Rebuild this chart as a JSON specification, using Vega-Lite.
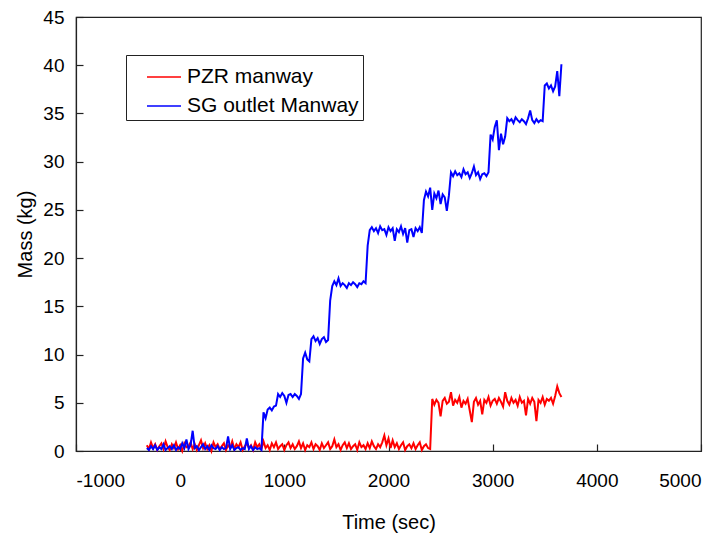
{
  "$schema": "https://vega.github.io/schema/vega-lite/v6.json",
  "width": 625,
  "height": 434,
  "autosize": {"type": "none"},
  "padding": {"left": 76, "top": 17, "right": 26, "bottom": 88},
  "background": "white",
  "config": {
    "font": "Liberation Sans, Arial",
    "view": {"stroke": "#222", "strokeWidth": 1.2},
    "axis": {"grid": false, "domainColor": "#222", "domainWidth": 1.2, "tickColor": "#222", "tickWidth": 1.2, "labelColor": "#000", "titleColor": "#000", "labelFontSize": 19, "titleFontSize": 20, "titleFontWeight": "normal", "labelFont": "Liberation Sans, Arial", "titleFont": "Liberation Sans, Arial"}
  },
  "data": {"values": [
    {"t":-320,"p":0.6,"g":0.3},{"t":-300,"p":0.2,"g":0.1},{"t":-280,"p":0.9,"g":0.5},{"t":-260,"p":0.3,"g":0.2},{"t":-240,"p":0.7,"g":0.6},{"t":-220,"p":0.1,"g":0.1},{"t":-200,"p":0.5,"g":0.4},{"t":-180,"p":0.8,"g":0.2},{"t":-160,"p":0.2,"g":0.7},{"t":-140,"p":1.0,"g":0.1},
    {"t":-120,"p":0.4,"g":0.3},{"t":-100,"p":0.1,"g":0.5},{"t":-80,"p":0.7,"g":0.2},{"t":-60,"p":0.3,"g":0.6},{"t":-40,"p":0.9,"g":0.1},{"t":-20,"p":0.2,"g":0.4},{"t":0,"p":0.6,"g":0.2},{"t":20,"p":0.0,"g":0.8},{"t":40,"p":0.8,"g":0.3},{"t":60,"p":0.4,"g":1.2},
    {"t":80,"p":0.5,"g":0.2},{"t":100,"p":0.9,"g":0.6},{"t":120,"p":0.2,"g":2.1},{"t":140,"p":0.7,"g":0.3},{"t":160,"p":0.1,"g":0.5},{"t":180,"p":0.6,"g":0.1},{"t":200,"p":1.1,"g":0.4},{"t":220,"p":0.3,"g":0.7},{"t":240,"p":0.8,"g":0.2},{"t":260,"p":0.2,"g":0.5},
    {"t":280,"p":0.6,"g":0.1},{"t":300,"p":0.0,"g":0.6},{"t":320,"p":0.9,"g":0.3},{"t":340,"p":0.4,"g":0.2},{"t":360,"p":0.7,"g":0.5},{"t":380,"p":0.2,"g":0.1},{"t":400,"p":0.5,"g":0.4},{"t":420,"p":0.8,"g":0.2},{"t":440,"p":0.1,"g":0.3},{"t":460,"p":0.6,"g":1.5},
    {"t":480,"p":0.3,"g":0.2},{"t":500,"p":1.0,"g":0.6},{"t":520,"p":0.2,"g":0.1},{"t":540,"p":0.7,"g":0.3},{"t":560,"p":0.4,"g":0.4},{"t":580,"p":0.9,"g":0.1},{"t":600,"p":0.1,"g":0.3},{"t":620,"p":0.5,"g":0.2},{"t":640,"p":0.8,"g":1.3},{"t":660,"p":0.3,"g":0.2},
    {"t":680,"p":0.6,"g":0.5},{"t":700,"p":0.1,"g":0.1},{"t":720,"p":0.9,"g":0.4},{"t":740,"p":0.4,"g":0.2},{"t":760,"p":0.7,"g":0.3},{"t":780,"p":0.2,"g":0.1},{"t":800,"p":1.0,"g":4.0},{"t":820,"p":0.3,"g":3.4},{"t":840,"p":0.6,"g":4.3},{"t":860,"p":0.1,"g":4.5},
    {"t":880,"p":0.8,"g":4.2},{"t":900,"p":0.4,"g":4.6},{"t":920,"p":0.9,"g":4.7},{"t":940,"p":0.2,"g":5.9},{"t":960,"p":0.5,"g":5.6},{"t":980,"p":0.7,"g":6.0},{"t":1000,"p":0.1,"g":5.7},{"t":1020,"p":0.6,"g":5.0},{"t":1040,"p":0.9,"g":5.8},{"t":1060,"p":0.3,"g":5.9},
    {"t":1080,"p":0.7,"g":5.6},{"t":1100,"p":0.2,"g":5.9},{"t":1120,"p":0.5,"g":5.7},{"t":1140,"p":1.0,"g":5.4},{"t":1160,"p":0.3,"g":5.9},{"t":1180,"p":0.8,"g":9.6},{"t":1200,"p":0.1,"g":10.2},{"t":1220,"p":0.6,"g":9.5},{"t":1240,"p":0.4,"g":9.3},{"t":1260,"p":0.9,"g":11.6},
    {"t":1280,"p":0.2,"g":11.9},{"t":1300,"p":0.7,"g":11.4},{"t":1320,"p":0.5,"g":11.7},{"t":1340,"p":0.1,"g":11.1},{"t":1360,"p":0.8,"g":11.6},{"t":1380,"p":0.3,"g":11.8},{"t":1400,"p":0.6,"g":11.3},{"t":1420,"p":0.9,"g":11.5},{"t":1440,"p":0.2,"g":15.6},{"t":1460,"p":0.5,"g":17.1},
    {"t":1480,"p":1.2,"g":17.6},{"t":1500,"p":0.4,"g":17.2},{"t":1520,"p":0.7,"g":17.9},{"t":1540,"p":0.1,"g":17.1},{"t":1560,"p":0.6,"g":17.4},{"t":1580,"p":0.9,"g":17.2},{"t":1600,"p":0.3,"g":16.9},{"t":1620,"p":0.8,"g":17.4},{"t":1640,"p":0.2,"g":17.2},{"t":1660,"p":0.5,"g":17.5},
    {"t":1680,"p":0.7,"g":17.3},{"t":1700,"p":0.1,"g":17.0},{"t":1720,"p":0.9,"g":17.4},{"t":1740,"p":0.4,"g":17.3},{"t":1760,"p":0.6,"g":17.6},{"t":1780,"p":0.2,"g":17.4},{"t":1800,"p":0.8,"g":21.3},{"t":1820,"p":0.3,"g":22.9},{"t":1840,"p":1.0,"g":23.2},{"t":1860,"p":0.5,"g":22.8},
    {"t":1880,"p":0.2,"g":23.1},{"t":1900,"p":0.7,"g":22.6},{"t":1920,"p":0.4,"g":23.3},{"t":1940,"p":0.9,"g":22.9},{"t":1960,"p":1.6,"g":23.0},{"t":1980,"p":0.6,"g":22.4},{"t":2000,"p":1.3,"g":23.2},{"t":2020,"p":0.3,"g":22.8},{"t":2040,"p":1.1,"g":23.1},{"t":2060,"p":0.4,"g":21.8},
    {"t":2080,"p":0.8,"g":23.0},{"t":2100,"p":0.2,"g":22.7},{"t":2120,"p":0.6,"g":23.3},{"t":2140,"p":0.9,"g":22.5},{"t":2160,"p":0.1,"g":23.1},{"t":2180,"p":0.5,"g":21.6},{"t":2200,"p":0.7,"g":22.9},{"t":2220,"p":0.3,"g":23.0},{"t":2240,"p":0.8,"g":22.2},{"t":2260,"p":0.2,"g":23.1},
    {"t":2280,"p":0.6,"g":22.8},{"t":2300,"p":0.9,"g":23.2},{"t":2320,"p":0.1,"g":22.6},{"t":2340,"p":0.5,"g":26.0},{"t":2360,"p":0.7,"g":26.9},{"t":2380,"p":0.3,"g":26.4},{"t":2400,"p":0.2,"g":27.3},{"t":2420,"p":5.4,"g":25.0},{"t":2440,"p":4.8,"g":26.7},{"t":2460,"p":5.3,"g":26.2},
    {"t":2480,"p":5.0,"g":27.0},{"t":2500,"p":3.6,"g":25.6},{"t":2520,"p":5.2,"g":26.6},{"t":2540,"p":5.5,"g":26.3},{"t":2560,"p":4.9,"g":24.9},{"t":2580,"p":5.1,"g":26.5},{"t":2600,"p":6.1,"g":28.9},{"t":2620,"p":4.7,"g":28.5},{"t":2640,"p":5.3,"g":29.0},{"t":2660,"p":5.0,"g":28.6},
    {"t":2680,"p":5.6,"g":28.8},{"t":2700,"p":4.5,"g":28.4},{"t":2720,"p":5.2,"g":29.2},{"t":2740,"p":4.9,"g":28.7},{"t":2760,"p":5.4,"g":28.9},{"t":2780,"p":4.2,"g":28.3},{"t":2800,"p":3.0,"g":28.8},{"t":2820,"p":5.1,"g":29.5},{"t":2840,"p":5.5,"g":28.6},{"t":2860,"p":4.8,"g":28.9},
    {"t":2880,"p":5.2,"g":28.2},{"t":2900,"p":3.8,"g":28.7},{"t":2920,"p":5.3,"g":28.8},{"t":2940,"p":5.0,"g":28.5},{"t":2960,"p":5.6,"g":28.9},{"t":2980,"p":4.7,"g":32.8},{"t":3000,"p":5.2,"g":32.3},{"t":3020,"p":5.4,"g":33.6},{"t":3040,"p":4.9,"g":34.3},{"t":3060,"p":5.5,"g":31.2},
    {"t":3080,"p":5.1,"g":32.9},{"t":3100,"p":4.6,"g":31.8},{"t":3120,"p":6.1,"g":32.6},{"t":3140,"p":5.2,"g":34.5},{"t":3160,"p":4.8,"g":34.2},{"t":3180,"p":5.5,"g":34.4},{"t":3200,"p":5.0,"g":34.0},{"t":3220,"p":5.3,"g":34.6},{"t":3240,"p":4.7,"g":34.3},{"t":3260,"p":5.6,"g":34.1},
    {"t":3280,"p":5.0,"g":34.4},{"t":3300,"p":5.2,"g":34.2},{"t":3320,"p":3.7,"g":33.9},{"t":3340,"p":5.4,"g":34.5},{"t":3360,"p":4.9,"g":35.3},{"t":3380,"p":5.5,"g":34.3},{"t":3400,"p":5.1,"g":34.0},{"t":3420,"p":3.1,"g":34.4},{"t":3440,"p":5.3,"g":34.1},{"t":3460,"p":5.0,"g":34.3},
    {"t":3480,"p":5.6,"g":34.2},{"t":3500,"p":4.8,"g":37.9},{"t":3520,"p":5.4,"g":38.1},{"t":3540,"p":5.2,"g":37.6},{"t":3560,"p":5.5,"g":37.9},{"t":3580,"p":4.9,"g":37.3},{"t":3600,"p":5.7,"g":37.8},{"t":3620,"p":6.7,"g":39.4},{"t":3640,"p":6.0,"g":36.8},{"t":3660,"p":5.6,"g":40.1}
  ]},
  "transform": [{"fold": ["p", "g"], "as": ["s", "v"]}],
  "mark": {"type": "line", "strokeWidth": 2, "interpolate": "linear"},
  "encoding": {
    "x": {"field": "t", "type": "quantitative", "scale": {"domain": [-1000, 5000], "nice": false, "zero": false},
      "axis": {"title": "Time (sec)", "values": [-1000, 0, 1000, 2000, 3000, 4000, 5000], "labelExpr": "'' + datum.value", "tickSize": -7, "labelPadding": 27, "titlePadding": 22}},
    "y": {"field": "v", "type": "quantitative", "scale": {"domain": [0, 45], "nice": false},
      "axis": {"title": "Mass (kg)", "values": [0, 5, 10, 15, 20, 25, 30, 35, 40, 45], "tickSize": -7, "labelPadding": 19, "titlePadding": 7}},
    "color": {"field": "s", "type": "nominal", "sort": ["p", "g"],
      "scale": {"domain": ["p", "g"], "range": ["#ff0000", "#0000ff"]},
      "legend": {"title": null, "orient": "none", "legendX": 50, "legendY": 38, "direction": "vertical",
        "labelExpr": "datum.value == 'p' ? 'PZR manway' : 'SG outlet Manway'",
        "symbolType": "stroke", "symbolSize": 1156, "symbolStrokeWidth": 1.5, "symbolOffset": 16,
        "labelFontSize": 21, "labelColor": "#000", "labelOffset": 5, "labelLimit": 300,
        "strokeColor": "#222", "padding": 4, "rowPadding": 1, "fillColor": "white"}
    },
    "order": {"field": "t", "type": "quantitative"}
  }
}
